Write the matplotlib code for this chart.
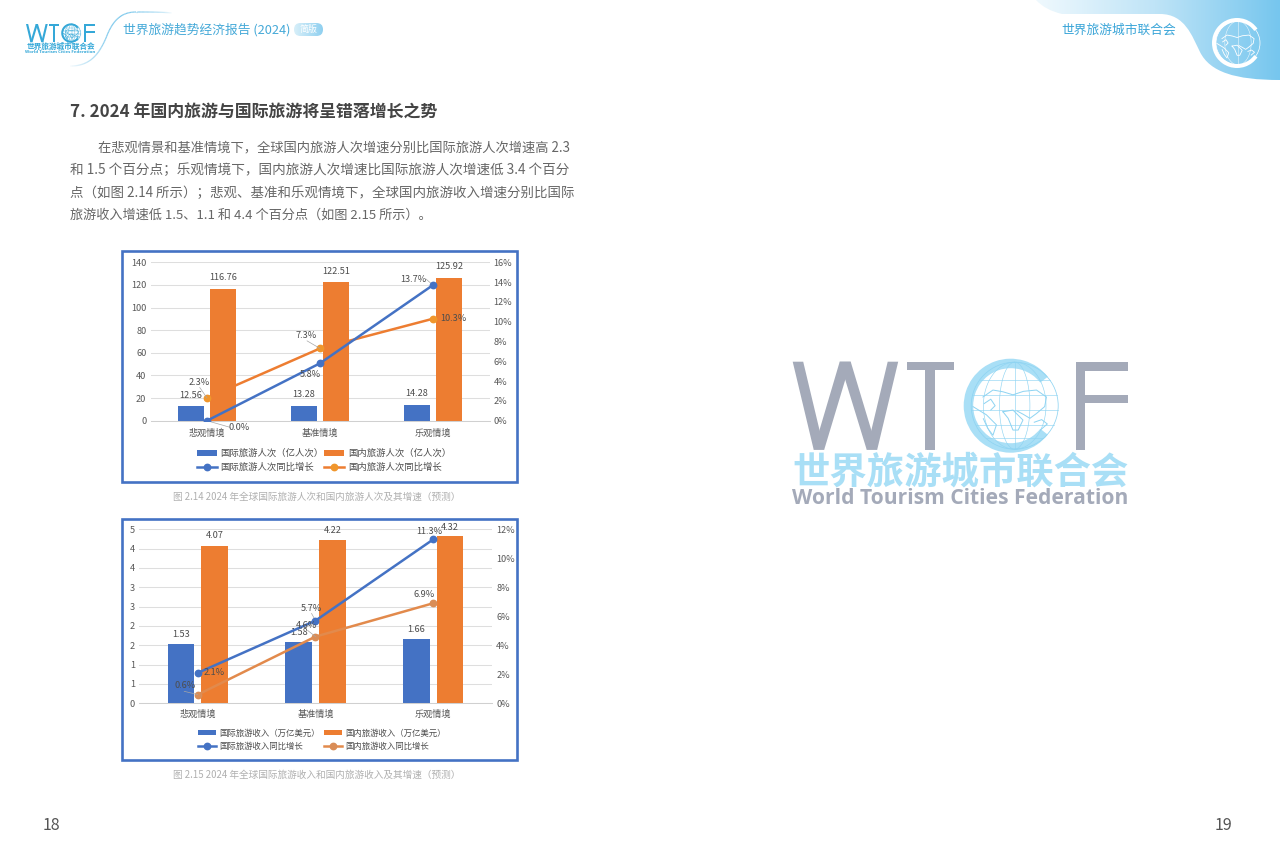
import numpy as np
import matplotlib
matplotlib.use('Agg')
import matplotlib.pyplot as plt
from matplotlib.patches import PathPatch, Rectangle, FancyBboxPatch, Circle, Wedge, Polygon
from matplotlib.path import Path
from matplotlib.collections import LineCollection

plt.rcParams['font.family'] = ['Noto Sans CJK SC', 'DejaVu Sans']

# ---------- data ----------
scenarios_1 = ['悲观情境', '基准情境', '乐观情境']
intl_visits = [12.56, 13.28, 14.28]
dom_visits = [116.76, 122.51, 125.92]
intl_visits_growth = [0.0, 5.8, 13.7]
dom_visits_growth = [2.3, 7.3, 10.3]
left_ticks_1 = [0, 20, 40, 60, 80, 100, 120, 140]
right_ticks_1 = [0, 2, 4, 6, 8, 10, 12, 14, 16]

scenarios_2 = ['悲观情境', '基准情境', '乐观情境']
intl_income = [1.53, 1.58, 1.66]
dom_income = [4.07, 4.22, 4.32]
intl_income_growth = [2.1, 5.7, 11.3]
dom_income_growth = [0.6, 4.6, 6.9]
left_ticks_2 = [0, 0.5, 1, 1.5, 2, 2.5, 3, 3.5, 4, 4.5]
left_tick_labels_2 = ['0', '1', '1', '2', '2', '3', '3', '4', '4', '5']
right_ticks_2 = [0, 2, 4, 6, 8, 10, 12]

W, H = 1280, 864
BLUE, ORANGE = '#4472c4', '#ed7d31'
TXT = '#595959'

fig = plt.figure(figsize=(W / 100, H / 100), dpi=100, facecolor='white')
page = fig.add_axes([0, 0, 1, 1], zorder=0)
page.axis('off')

# ---------- page decoration ----------
grad = np.linspace(0, 1, 256).reshape(1, -1)
cmap = matplotlib.colors.LinearSegmentedColormap.from_list('g', ['#f2fafe', '#bfe4f7', '#76c6ee'])
im = page.imshow(grad, extent=[1030, 1280, 82, 0], cmap=cmap, aspect='auto', zorder=0)
cmap2 = matplotlib.colors.LinearSegmentedColormap.from_list('p', ['#d8eff9', '#8fd0f0'])
im2 = page.imshow(grad, extent=[294, 323, 36, 23], cmap=cmap2, aspect='auto', zorder=1)
page.set_xlim(0, W)
page.set_ylim(H, 0)


def rect(l, t, r, b):
    return [l / W, 1 - b / H, (r - l) / W, (b - t) / H]


verts = [(1036, 0), (1045, 10), (1062, 14), (1160, 14), (1185, 14), (1192, 36), (1200, 52),
         (1210, 72), (1235, 80), (1280, 80), (1280, 0), (1036, 0)]
codes = [Path.MOVETO, Path.CURVE3, Path.CURVE3, Path.LINETO, Path.CURVE4, Path.CURVE4, Path.CURVE4,
         Path.CURVE4, Path.CURVE4, Path.CURVE4, Path.LINETO, Path.CLOSEPOLY]
clip = PathPatch(Path(verts, codes), transform=page.transData, fc='none', ec='none')
page.add_patch(clip)
im.set_clip_path(clip)

pill = FancyBboxPatch((294, 23), 29, 13, boxstyle='round,pad=0,rounding_size=6.5', fc='none', ec='none',
                      transform=page.transData)
page.add_patch(pill)
im2.set_clip_path(pill)


def bez(p0, p1, p2, p3, n=30):
    p0, p1, p2, p3 = map(np.array, (p0, p1, p2, p3))
    t = np.linspace(0, 1, n)[:, None]
    return (1 - t) ** 3 * p0 + 3 * (1 - t) ** 2 * t * p1 + 3 * (1 - t) * t ** 2 * p2 + t ** 3 * p3


# swoosh
pts = np.vstack([bez((68, 66), (90, 67), (99, 54), (106, 38)), bez((106, 38), (112, 22), (120, 12), (136, 12)),
                 bez((136, 12), (150, 12), (160, 12), (173, 13))])
segs = np.stack([pts[:-1], pts[1:]], axis=1)
alpha = np.sin(np.linspace(0, np.pi, len(segs))) ** 0.7
cols = np.zeros((len(segs), 4))
cols[:, :3] = matplotlib.colors.to_rgb('#7cc8ec')
cols[:, 3] = alpha
page.add_collection(LineCollection(segs, colors=cols, linewidths=0.9))

coast = [
    [(-.73, -.2), (-.5, -.36), (-.27, -.32), (-.04, -.25), (.2, -.33), (.5, -.36), (.73, -.2),
     (.69, .02), (.5, .18), (.35, .29), (.2, .2), (.05, .12)],
    [(-.27, .14), (-.04, .1), (.19, .33), (.08, .56), (-.04, .56), (-.15, .29), (-.27, .14)],
    [(-.96, .02), (-.65, .21), (-.42, .44), (-.5, .68), (-.62, .52), (-.72, .3)],
    [(-.7, -.05), (-.55, -.15), (-.45, .0), (-.55, .1)],
    [(.45, .38), (.62, .32), (.75, .42), (.6, .55)],
]


def draw_logo(x0, y0, s, letter, ring, globe, word, zh, lw_scale=1.0):
    """x0,y0: top-left of the W. s: scale (1 = large logo)."""
    X = lambda v: x0 + v * s
    Y = lambda v: y0 + v * s
    strokes = [[(0, 0), (10.5, 0), (31.5, 88), (21, 88)],
               [(21, 88), (31.5, 88), (58, 0), (47, 0)],
               [(47, 0), (58, 0), (84.5, 88), (74, 88)],
               [(74, 88), (84.5, 88), (105.5, 0), (95, 0)]]
    for st in strokes:
        page.add_patch(Polygon([(X(a), Y(b)) for a, b in st], fc=letter, ec='none', zorder=3))
    for a, b, w_, h_ in [(114, 0, 47, 8), (132, 0, 10, 88), (283, 0, 52.5, 9), (283, 0, 9.5, 88),
                         (283, 33, 52.5, 8.5)]:
        page.add_patch(Rectangle((X(a), Y(b)), w_ * s, h_ * s, fc=letter, ec='none', zorder=3))
    cx, cy = X(218), Y(44)
    r = 47 * s
    page.add_patch(Wedge((cx, cy), r, 38, 322, width=9.5 * s, fc=ring, ec='none', zorder=3))
    gx, gy, gr = X(222), Y(44), 43.5 * s
    lw = 0.55 * lw_scale
    page.add_patch(Circle((gx, gy), gr, fc='none', ec=globe, lw=lw, zorder=3))
    th = np.linspace(-np.pi / 2, np.pi / 2, 40)
    for k in [-.72, -.35, 0, .35, .72]:
        page.plot(gx + k * gr * np.cos(th), gy + gr * np.sin(th), color=globe, lw=lw * .8, zorder=3)
    for k in [-.6, -.25, .1, .45, .75]:
        hw = np.sqrt(1 - k * k) * gr
        page.plot([gx - hw, gx + hw], [gy + k * gr, gy + k * gr], color=globe, lw=lw * .8, zorder=3)
    for c in coast:
        c = np.array(c)
        page.plot(gx + c[:, 0] * gr, gy + c[:, 1] * gr, color=globe, lw=lw * 1.3, zorder=3)
    page.text(X(167.7), Y(110.5), '世界旅游城市联合会', color=zh, fontsize=26.9 * s, fontweight='bold',
              ha='center', va='center', zorder=3)
    page.text(X(167.7), Y(136.5), 'World Tourism Cities Federation', color=word,
              fontsize=15.1 * s, fontweight='bold', ha='center', va='center', zorder=3,
              family=['Open Sans', 'DejaVu Sans'])


# large logo, small logo
draw_logo(792.7, 361.7, 1.0, '#a4aab9', '#a9dff6', '#8fd4f2', '#a4aab9', '#a9dff6')
draw_logo(26, 24, 0.206, '#35a8d8', '#35a8d8', '#35a8d8', '#35a8d8', '#35a8d8', lw_scale=.6)

# right header round globe
page.add_patch(Wedge((1237, 43), 25, 35, 325, width=4, fc='white', ec='none', zorder=3))
gx, gy, gr = 1238, 43, 22
page.add_patch(Circle((gx, gy), gr, fc='none', ec='white', lw=.5, zorder=3))
th = np.linspace(-np.pi / 2, np.pi / 2, 30)
for k in [-.6, 0, .6]:
    page.plot(gx + k * gr * np.cos(th), gy + gr * np.sin(th), color='white', lw=.4, alpha=.8, zorder=3)
for c in coast:
    c = np.array(c)
    page.plot(gx + c[:, 0] * gr, gy + c[:, 1] * gr, color='white', lw=.6, zorder=3)

# header text
page.text(123, 30, '世界旅游趋势经济报告 (2024)', color='#45a9d8', fontsize=9.2, va='center', ha='left')
page.text(309, 29.7, '简版', color='white', fontsize=6.5, ha='center', va='center', zorder=2)
page.text(1061, 30, '世界旅游城市联合会', color='#3aa5d8', fontsize=9.2, va='center', ha='left', zorder=3)

# page body text
page.text(70, 113, '7. 2024 年国内旅游与国际旅游将呈错落增长之势', color='#444444', fontsize=12.2,
          fontweight='bold', va='center', ha='left')
body = [
    (98, 147.5, 9.55, '在悲观情景和基准情境下，全球国内旅游人次增速分别比国际旅游人次增速高 2.3'),
    (70, 170.5, 9.81, '和 1.5 个百分点；乐观情境下，国内旅游人次增速比国际旅游人次增速低 3.4 个百分'),
    (70, 193, 9.69, '点（如图 2.14 所示）；悲观、基准和乐观情境下，全球国内旅游收入增速分别比国际'),
    (70, 215, 9.49, '旅游收入增速低 1.5、1.1 和 4.4 个百分点（如图 2.15 所示）。'),
]
for x, y, fs, s in body:
    page.text(x, y, s, color='#666666', fontsize=fs, va='center', ha='left')
page.text(43, 825, '18', color='#555555', fontsize=11.5, va='center', ha='left')
page.text(1215, 825, '19', color='#555555', fontsize=11.5, va='center', ha='left')


def annot(ax, x, y, txt, dx, dy, leader=None):
    """dx,dy in pixels from the data point (dy positive = up)."""
    ax.annotate(txt, xy=(x, y), xytext=(dx, dy), textcoords='offset pixels', ha='center', va='center',
                fontsize=6.6, color='#4d4d4d', zorder=10)
    if leader is not None:
        ax.annotate('', xy=(x, y), xytext=leader, textcoords='offset pixels',
                    arrowprops=dict(arrowstyle='-', color='#a6a6a6', lw=.5, shrinkA=0, shrinkB=0), zorder=4)


def chart(frame, plot, cats, bar1, bar2, g1, g2, lt, ltl, rt, ymax, rmax, bw, off, names, bar_off, l1, l2,
          caption, cap_y, cat_pad, leg_y, line2c, mark2c, legend_x, leg_kw):
    l, t, r, b = frame
    page.add_patch(Rectangle((l, t), r - l, b - t, fc='white', ec='#4472c4', lw=1.9, zorder=1))
    ax = fig.add_axes(rect(*plot), zorder=2)
    ax.patch.set_alpha(0)
    x = np.arange(3)
    b1 = ax.bar(x - off, bar1, bw, color=BLUE, zorder=2)
    b2 = ax.bar(x + off, bar2, bw, color=ORANGE, zorder=2)
    ax.set_xlim(-.5, 2.5)
    ax.set_ylim(0, ymax)
    ax.set_yticks(lt)
    ax.set_yticklabels(ltl)
    ax.set_xticks(x)
    ax.set_xticklabels(cats)
    ax.grid(axis='y', color='#dedede', lw=.75)
    ax.set_axisbelow(True)
    for s in ['top', 'left', 'right']:
        ax.spines[s].set_visible(False)
    ax.spines['bottom'].set_color('#d0d0d0')
    ax.spines['bottom'].set_linewidth(.75)
    ax.tick_params(axis='both', length=0, labelsize=6.6, labelcolor=TXT)
    ax.tick_params(axis='x', pad=cat_pad)
    ax.tick_params(axis='y', pad=3)
    ax2 = ax.twinx()
    ax2.set_zorder(3)
    ax2.patch.set_alpha(0)
    ax2.set_ylim(0, rmax)
    ax2.set_yticks(rt)
    ax2.set_yticklabels([f'{v}%' for v in rt])
    ax2.tick_params(axis='y', length=0, labelsize=6.6, labelcolor=TXT, pad=3)
    for s in ax2.spines.values():
        s.set_visible(False)
    h1, = ax2.plot(x, g1, color=BLUE, lw=1.8, marker='o', ms=4.6, zorder=5)
    h2, = ax2.plot(x, g2, color=line2c, lw=1.8, marker='o', ms=4.6, mfc=mark2c, mec=mark2c, zorder=4)
    for i in range(3):
        ax.annotate(f'{bar1[i]:.2f}', xy=(x[i] - off, bar1[i]), xytext=(0, bar_off[0][i]),
                    textcoords='offset pixels', ha='center', va='center', fontsize=6.6, color='#4d4d4d', zorder=10)
        ax.annotate(f'{bar2[i]:.2f}', xy=(x[i] + off, bar2[i]), xytext=(0, bar_off[1][i]),
                    textcoords='offset pixels', ha='center', va='center', fontsize=6.6, color='#4d4d4d', zorder=10)
    for i in range(3):
        annot(ax2, x[i], g1[i], f'{g1[i]:.1f}%', *l1[i])
        annot(ax2, x[i], g2[i], f'{g2[i]:.1f}%', *l2[i])
    ax2.legend([b1, h1, b2, h2], [names[0], names[2], names[1], names[3]], ncol=2, frameon=False,
               loc='center left', bbox_to_anchor=(legend_x / W, 1 - leg_y / H),
               bbox_transform=fig.transFigure, labelcolor='#4d4d4d', handleheight=.55,
               borderpad=0, borderaxespad=0, **leg_kw)
    page.text(317, cap_y, caption, color='#b0b0b0', fontsize=6.95, ha='center', va='center')


chart((122, 251, 517, 482), (150.5, 262.3, 489.5, 420.7), scenarios_1, intl_visits, dom_visits,
      intl_visits_growth, dom_visits_growth, left_ticks_1, [str(v) for v in left_ticks_1], right_ticks_1,
      140, 16, .224, .1416,
      ['国际旅游人次（亿人次）', '国内旅游人次（亿人次）', '国际旅游人次同比增长', '国内旅游人次同比增长'],
      ([11, 11, 11], [11, 11, 12]),
      [(32, -6.6, (23, -6.6)), (-10, -11.7, None), (-19.3, 5.7, (-7, 6))],
      [(-7.3, 15.7, (-7.3, 10.5)), (-14, 13.3, (-13, 7.6)), (20, 0, None)],
      '图 2.14 2024 年全球国际旅游人次和国内旅游人次及其增速（预测）', 497, 5.6, 460.3, ORANGE, '#f0962c', 196.7,
      dict(fontsize=6.75, handlelength=2.13, handletextpad=.4, columnspacing=0.05, labelspacing=.44))

chart((122, 519, 517, 760), (139, 529.3, 492, 703.3), scenarios_2, intl_income, dom_income,
      intl_income_growth, dom_income_growth, left_ticks_2, left_tick_labels_2, right_ticks_2,
      4.5, 12, .227, .143,
      ['国际旅游收入（万亿美元）', '国内旅游收入（万亿美元）', '国际旅游收入同比增长', '国内旅游收入同比增长'],
      ([10, 10, 10], [10, 10, 9]),
      [(16.3, 0, None), (-4, 12.3, (-4, 7.3)), (-3.7, 8.3, None)],
      [(-13, 9.3, (-13.7, 3.3)), (-8.7, 11, (-8, 6.3)), (-9.3, 8.3, None)],
      '图 2.15 2024 年全球国际旅游收入和国内旅游收入及其增速（预测）', 775, 4.6, 739.7, '#e28a4c', '#d98d57', 197.7,
      dict(fontsize=6.06, handlelength=2.18, handletextpad=.39, columnspacing=.5, labelspacing=.46))

fig.savefig('out.png', dpi=100, facecolor='white')
